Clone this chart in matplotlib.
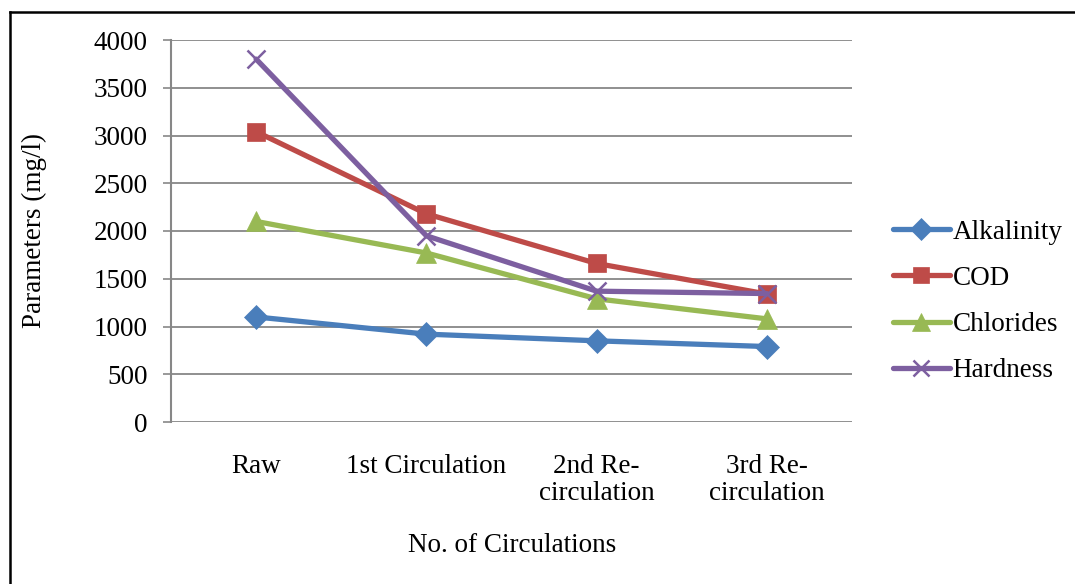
import matplotlib
matplotlib.use("Agg")
import matplotlib.pyplot as plt
from matplotlib.lines import Line2D

categories = ["Raw", "1st Circulation", "2nd Re-\ncirculation", "3rd Re-\ncirculation"]
alkalinity = [1100, 920, 850, 790]
cod = [3040, 2180, 1660, 1340]
chlorides = [2100, 1770, 1290, 1080]
hardness = [3800, 1950, 1370, 1345]
yticks = [0, 500, 1000, 1500, 2000, 2500, 3000, 3500, 4000]

plt.rcParams['font.family'] = ['Liberation Serif', 'DejaVu Serif']
FS = 19.5

W, H = 1075, 584
fig = plt.figure(figsize=(W / 100, H / 100), dpi=100)
ax = fig.add_axes([171 / W, 1 - 422 / H, (852 - 171) / W, (422 - 40) / H])

x = list(range(len(categories)))
series = [
    ("Alkalinity", alkalinity, "#4a7ebb", "D", 12),
    ("COD", cod, "#be4b48", "s", 13.5),
    ("Chlorides", chlorides, "#98b954", "^", 15),
    ("Hardness", hardness, "#7d5fa0", "x", 13),
]
for name, vals, col, mk, ms in series:
    ax.plot(x, vals, color=col, lw=3.8, marker=mk, markersize=ms,
            markeredgewidth=1.8 if mk == "x" else 0.5, markeredgecolor=col,
            markerfacecolor=col, label=name, solid_capstyle="round")

ax.set_xlim(-0.5, len(categories) - 0.5)
ax.set_ylim(0, 4000)
ax.set_yticks(yticks)
ax.set_yticklabels([str(v) for v in yticks], fontsize=FS)
ax.set_xticks(x)
ax.set_xticklabels(categories, fontsize=FS, linespacing=1.12)
ax.tick_params(axis='x', length=0, pad=23)
ax.tick_params(axis='y', length=6, color="#878787", width=1.2, pad=11)
ax.yaxis.grid(True, color="#878787", lw=1.3)
ax.set_axisbelow(True)
for s in ["top", "right", "bottom"]:
    ax.spines[s].set_visible(False)
ax.spines["left"].set_color("#878787")
ax.spines["left"].set_linewidth(1.5)

ax.set_ylabel("Parameters (mg/l)", fontsize=FS)
ax.yaxis.set_label_coords((34 - 171) / 681, 0.5)
ax.yaxis.label.set_va("center")
fig.text(512 / W, 1 - 545 / H, "No. of Circulations", fontsize=FS, ha="center", va="center")

leg = ax.legend(loc="center left", bbox_to_anchor=((893 - 171) / 681, (422 - 301.5) / 382),
                frameon=False, fontsize=FS, handlelength=2.1, labelspacing=0.78,
                handletextpad=0.1, borderaxespad=0, borderpad=0, markerscale=0.9)

# figure frame (left and top edges)
fig.add_artist(Line2D([9.5 / W, 9.5 / W], [0, 1 - 11.5 / H], transform=fig.transFigure,
                      color="black", lw=1.8))
fig.add_artist(Line2D([9.5 / W, 1], [1 - 11.5 / H, 1 - 11.5 / H], transform=fig.transFigure,
                      color="black", lw=1.8))

fig.savefig("out.png", dpi=100)
